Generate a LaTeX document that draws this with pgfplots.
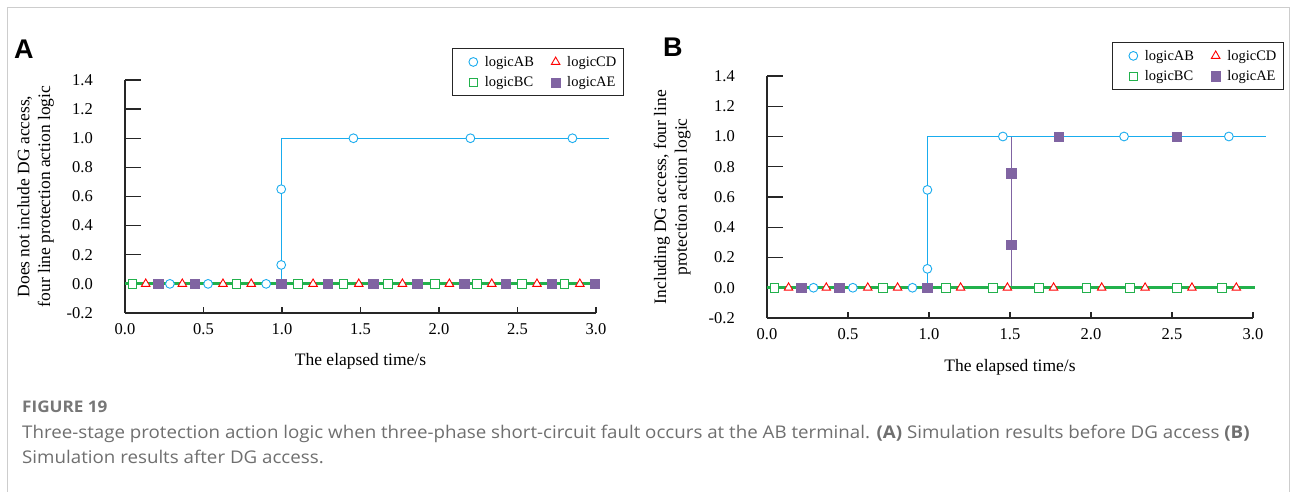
\documentclass[border=0pt]{standalone}
\usepackage{pgfplots}
\pgfplotsset{compat=1.18}
\usepackage{fontspec}
\setmainfont{Liberation Serif}
\newfontfamily\capfont{Open Sans}[FakeStretch=1.07]
\newfontfamily\letterfont{Liberation Sans}
\definecolor{cAB}{RGB}{25,172,238}
\definecolor{cBC}{RGB}{34,177,76}
\definecolor{cCD}{RGB}{255,0,0}
\definecolor{cAE}{RGB}{128,100,162}
\definecolor{capgray}{RGB}{95,95,95}
\definecolor{bordergray}{RGB}{205,205,205}

\pgfplotsset{
  panel/.style={
    scale only axis, anchor=south west, clip=false,
    xmin=0, xmax=3, ymin=-0.2, ymax=1.4,
    axis x line=bottom, axis y line=left,
    axis line style={-, line width=1.4bp, black!85},
    tick align=inside,
    xtick={0,0.5,1,1.5,2,2.5,3}, xticklabels={0.0,0.5,1.0,1.5,2.0,2.5,3.0},
    ytick={-0.2,0,0.2,0.4,0.6,0.8,1,1.2,1.4},
    yticklabels={-0.2,0.0,0.2,0.4,0.6,0.8,1.0,1.2,1.4},
    minor tick num=0,
    x tick style={line width=1.4bp, black!85, /pgfplots/major tick length=6bp},
    y tick style={line width=1.4bp, black!85, /pgfplots/major tick length=16bp},
    tick label style={font=\fontsize{16.5bp}{19bp}\selectfont},
    yticklabel style={inner sep=0pt, xshift=-32bp},
    xticklabel style={inner sep=0pt, yshift=-10bp},
    label style={font=\fontsize{17.5bp}{20.8bp}\selectfont},
    xlabel={The elapsed time/s},
    xlabel style={at={(axis description cs:0.5,0)}, anchor=north, inner sep=0pt, yshift=-40bp},
    legend columns=2, legend cell align=left,
    legend style={anchor=north east, draw=black!85, line width=1.2bp, fill=white,
      font=\fontsize{14.5bp}{16bp}\selectfont, inner xsep=3bp, inner ysep=6bp,
      row sep=6bp, nodes={inner ysep=1.5bp, inner xsep=4bp}},
    legend image code/.code={\path (0bp,0bp) (24bp,0bp); \draw[#1] plot coordinates {(17bp,0bp)};},
  },
  mAB/.style={only marks, color=cAB, mark=*, mark size=4.4bp, mark options={draw=cAB, fill=white, line width=0.9bp}},
  mBC/.style={only marks, color=cBC, mark=square*, mark size=4.3bp, mark options={draw=cBC, fill=white, line width=0.9bp}},
  mCD/.style={only marks, color=cCD, mark=triangle*, mark size=4.9bp, mark options={draw=cCD, fill=white, line width=0.9bp}},
  mAE/.style={only marks, color=cAE, mark=square*, mark size=4.7bp, mark options={draw=cAE, fill=cAE, line width=0.5bp}},
}

\begin{document}
\begin{tikzpicture}
\path[use as bounding box, fill=white] (0bp,0bp) rectangle (1293bp,492bp);
\draw[bordergray, line width=1bp] (7bp,-2bp) -- (7bp,484bp) -- (1289bp,484bp) -- (1289bp,-2bp);

% ---------------- Panel A ----------------
\begin{axis}[panel, at={(125bp,179bp)}, width=471bp, height=233bp,
  ylabel={Does not include DG access,\\four line protection action logic},
  ylabel style={at={(axis description cs:-0.19,0.5)}, anchor=center, align=center, inner sep=0pt},
  legend style={at={(1.0594,1.137)}}]
\addlegendimage{mAB}\addlegendentry{logicAB}
\addlegendimage{mCD}\addlegendentry{logicCD}
\addlegendimage{mBC}\addlegendentry{logicBC}
\addlegendimage{mAE}\addlegendentry{logicAE}
% lines
\addplot[forget plot, no marks, cCD, line width=1.2bp] coordinates {(0,0) (3.0,0)};
\addplot[forget plot, no marks, cAE, line width=1.2bp] coordinates {(0,0) (3.0,0)};
\addplot[forget plot, no marks, cAB, line width=1.3bp] coordinates {(0,0) (0.995,0) (0.995,1) (3.08,1)};
\addplot[forget plot, no marks, cBC, line width=2.8bp] coordinates {(0,0) (3.0,0)};
% marks
\addplot[forget plot, mAB] coordinates {(0.286,0) (0.529,0) (0.899,0) (0.995,0.13) (0.995,0.65) (1.455,1) (2.20,1) (2.85,1)};
\addplot[forget plot, mBC] coordinates {(0.048,0) (0.709,0) (1.103,0) (1.392,0) (1.675,0) (1.974,0) (2.24,0) (2.53,0) (2.80,0)};
\addplot[forget plot, mCD] coordinates {(0.132,0) (0.365,0) (0.624,0) (0.804,0) (1.198,0) (1.489,0) (1.767,0) (2.066,0) (2.336,0) (2.624,0) (2.897,0)};
\addplot[forget plot, mAE] coordinates {(0.212,0) (0.444,0) (0.995,0) (1.291,0) (1.582,0) (1.862,0) (2.161,0) (2.426,0) (2.72,0) (2.992,0)};
\end{axis}

% ---------------- Panel B ----------------
\begin{axis}[panel, at={(767bp,174bp)}, width=486bp, height=242bp,
  ylabel={Including DG access, four line\\protection action logic},
  ylabel style={at={(axis description cs:-0.195,0.5)}, anchor=center, align=center, inner sep=0pt},
  xlabel style={yshift=-1bp},
  legend style={at={(1.0638,1.1405)}}]
\addlegendimage{mAB}\addlegendentry{logicAB}
\addlegendimage{mCD}\addlegendentry{logicCD}
\addlegendimage{mBC}\addlegendentry{logicBC}
\addlegendimage{mAE}\addlegendentry{logicAE}
% lines
\addplot[forget plot, no marks, cCD, line width=1.2bp] coordinates {(0,0) (3.0,0)};
\addplot[forget plot, no marks, cAE, line width=1.3bp] coordinates {(0,0) (1.508,0) (1.508,1) (3.08,1)};
\addplot[forget plot, no marks, cAB, line width=1.3bp] coordinates {(0,0) (0.99,0) (0.99,1) (3.08,1)};
\addplot[forget plot, no marks, cBC, line width=2.8bp] coordinates {(0,0) (3.01,0)};
% marks
\addplot[forget plot, mAB] coordinates {(0.287,0) (0.530,0) (0.898,0) (0.99,0.125) (0.99,0.647) (1.456,1) (2.204,1) (2.851,1)};
\addplot[forget plot, mBC] coordinates {(0.046,0) (0.714,0) (1.103,0) (1.395,0) (1.677,0) (1.973,0) (2.24,0) (2.531,0) (2.808,0)};
\addplot[forget plot, mCD] coordinates {(0.133,0) (0.366,0) (0.622,0) (0.806,0) (1.195,0) (1.484,0) (1.769,0) (2.066,0) (2.334,0) (2.623,0) (2.897,0)};
\addplot[forget plot, mAE] coordinates {(0.212,0) (0.445,0) (0.99,0) (1.508,0.285) (1.508,0.757) (1.802,1) (2.529,1)};
\end{axis}

% panel letters
\node[anchor=north west, inner sep=0pt, font=\letterfont\bfseries\fontsize{27bp}{27bp}\selectfont] at (14bp,452bp) {A};
\node[anchor=north west, inner sep=0pt, font=\letterfont\bfseries\fontsize{27bp}{27bp}\selectfont] at (663bp,454bp) {B};

% caption
\node[anchor=base west, inner sep=0pt, text=capgray!85, font=\capfont\bfseries\fontsize{16bp}{16bp}\selectfont] at (22bp,79bp) {FIGURE 19};
\node[anchor=base west, inner sep=0pt, text=capgray!90, font=\capfont\fontsize{17.5bp}{17.5bp}\selectfont] at (22bp,53bp) {Three-stage protection action logic when three-phase short-circuit fault occurs at the AB terminal. \textbf{(A)} Simulation results before DG access \textbf{(B)}};
\node[anchor=base west, inner sep=0pt, text=capgray!90, font=\capfont\fontsize{17.5bp}{17.5bp}\selectfont] at (22bp,29bp) {Simulation results after DG access.};
\end{tikzpicture}
\end{document}
